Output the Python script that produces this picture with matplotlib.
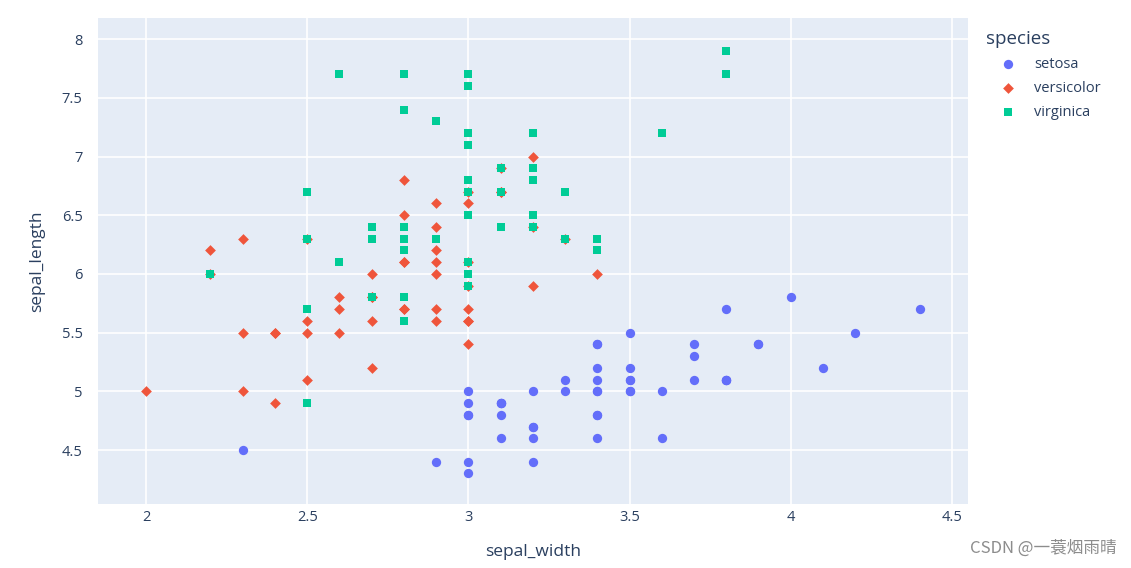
import matplotlib
matplotlib.use("Agg")
import matplotlib.pyplot as plt

# iris: sepal_width (x), sepal_length (y)
setosa_w = [3.5, 3.0, 3.2, 3.1, 3.6, 3.9, 3.4, 3.4, 2.9, 3.1, 3.7, 3.4, 3.0, 3.0, 4.0, 4.4, 3.9, 3.5, 3.8, 3.8,
            3.4, 3.7, 3.6, 3.3, 3.4, 3.0, 3.4, 3.5, 3.4, 3.2, 3.1, 3.4, 4.1, 4.2, 3.1, 3.2, 3.5, 3.1, 3.0, 3.4,
            3.5, 2.3, 3.2, 3.5, 3.8, 3.0, 3.8, 3.2, 3.7, 3.3]
setosa_l = [5.1, 4.9, 4.7, 4.6, 5.0, 5.4, 4.6, 5.0, 4.4, 4.9, 5.4, 4.8, 4.8, 4.3, 5.8, 5.7, 5.4, 5.1, 5.7, 5.1,
            5.4, 5.1, 4.6, 5.1, 4.8, 5.0, 5.0, 5.2, 5.2, 4.7, 4.8, 5.4, 5.2, 5.5, 4.9, 5.0, 5.5, 4.9, 4.4, 5.1,
            5.0, 4.5, 4.4, 5.0, 5.1, 4.8, 5.1, 4.6, 5.3, 5.0]
versicolor_w = [3.2, 3.2, 3.1, 2.3, 2.8, 2.8, 3.3, 2.4, 2.9, 2.7, 2.0, 3.0, 2.2, 2.9, 2.9, 3.1, 3.0, 2.7, 2.2, 2.5,
                3.2, 2.8, 2.5, 2.8, 2.9, 3.0, 2.8, 3.0, 2.9, 2.6, 2.4, 2.4, 2.7, 2.7, 3.0, 3.4, 3.1, 2.3, 3.0, 2.5,
                2.6, 3.0, 2.6, 2.3, 2.7, 3.0, 2.9, 2.9, 2.5, 2.8]
versicolor_l = [7.0, 6.4, 6.9, 5.5, 6.5, 5.7, 6.3, 4.9, 6.6, 5.2, 5.0, 5.9, 6.0, 6.1, 5.6, 6.7, 5.6, 5.8, 6.2, 5.6,
                5.9, 6.1, 6.3, 6.1, 6.4, 6.6, 6.8, 6.7, 6.0, 5.7, 5.5, 5.5, 5.8, 6.0, 5.4, 6.0, 6.7, 6.3, 5.6, 5.5,
                5.5, 6.1, 5.8, 5.0, 5.6, 5.7, 5.7, 6.2, 5.1, 5.7]
virginica_w = [3.3, 2.7, 3.0, 2.9, 3.0, 3.0, 2.5, 2.9, 2.5, 3.6, 3.2, 2.7, 3.0, 2.5, 2.8, 3.2, 3.0, 3.8, 2.6, 2.2,
               3.2, 2.8, 2.8, 2.7, 3.3, 3.2, 2.8, 3.0, 2.8, 3.0, 2.8, 3.8, 2.8, 2.8, 2.6, 3.0, 3.4, 3.1, 3.0, 3.1,
               3.1, 3.1, 2.7, 3.2, 3.3, 3.0, 2.5, 3.0, 3.4, 3.0]
virginica_l = [6.3, 5.8, 7.1, 6.3, 6.5, 7.6, 4.9, 7.3, 6.7, 7.2, 6.5, 6.4, 6.8, 5.7, 5.8, 6.4, 6.5, 7.7, 7.7, 6.0,
               6.9, 5.6, 7.7, 6.3, 6.7, 7.2, 6.2, 6.1, 6.4, 7.2, 7.4, 7.9, 6.4, 6.3, 6.1, 7.7, 6.3, 6.4, 6.0, 6.9,
               6.7, 6.9, 5.8, 6.8, 6.7, 6.7, 6.3, 6.5, 6.2, 5.9]

species = ["setosa", "versicolor", "virginica"]
xticks = [2, 2.5, 3, 3.5, 4, 4.5]
yticks = [4.5, 5, 5.5, 6, 6.5, 7, 7.5, 8]

plt.rcParams["font.family"] = ["Open Sans", "DejaVu Sans"]
txt = "#2a3f5f"

fig = plt.figure(figsize=(11.31, 5.68), dpi=100)
ax = fig.add_axes([98 / 1131, 1 - 504 / 568, 870 / 1131, 486 / 568])
ax.set_facecolor("#E5ECF6")
for s in ax.spines.values():
    s.set_visible(False)

series = [(setosa_w, setosa_l, "#636efa", "o", 45),
          (versicolor_w, versicolor_l, "#EF553B", "D", 30),
          (virginica_w, virginica_l, "#00cc96", "s", 38)]
for name, (xs, ys, c, m, sz) in zip(species, series):
    ax.scatter(xs, ys, s=sz, c=c, marker=m, linewidths=0, label=name, zorder=3)

ax.set_xlim(1.851, 4.55)
ax.set_ylim(4.04, 8.18)
ax.set_xticks(xticks)
ax.set_xticklabels([f"{t:g}" for t in xticks])
ax.set_yticks(yticks)
ax.set_yticklabels([f"{t:g}" for t in yticks])
ax.grid(True, color="white", linewidth=1.2, zorder=0)
ax.set_axisbelow(True)
ax.tick_params(length=0, labelsize=10.5, labelcolor=txt)
ax.tick_params(axis="x", pad=4)
ax.tick_params(axis="y", pad=11)
ax.set_xlabel("sepal_width", fontsize=12.5, color=txt, labelpad=14)
ax.set_ylabel("sepal_length", fontsize=12.5, color=txt, labelpad=12)

leg = ax.legend(title="species", loc="upper left", bbox_to_anchor=(986 / 1131, 1 - 30 / 568),
                bbox_transform=fig.transFigure, frameon=False, borderpad=0, borderaxespad=0,
                fontsize=10.5, title_fontsize=13.5, handlelength=3.0, handletextpad=0.3,
                labelspacing=0.62)
leg._legend_box.align = "left"
for t in leg.get_texts():
    t.set_color(txt)
leg.get_title().set_color(txt)

fig.text(0.987, 0.035, "CSDN @一蓑烟雨晴", ha="right", va="center", fontsize=12, color="#8c8c8c",
         family=["Noto Sans CJK SC", "DejaVu Sans"])

fig.savefig("out.png", dpi=100)
